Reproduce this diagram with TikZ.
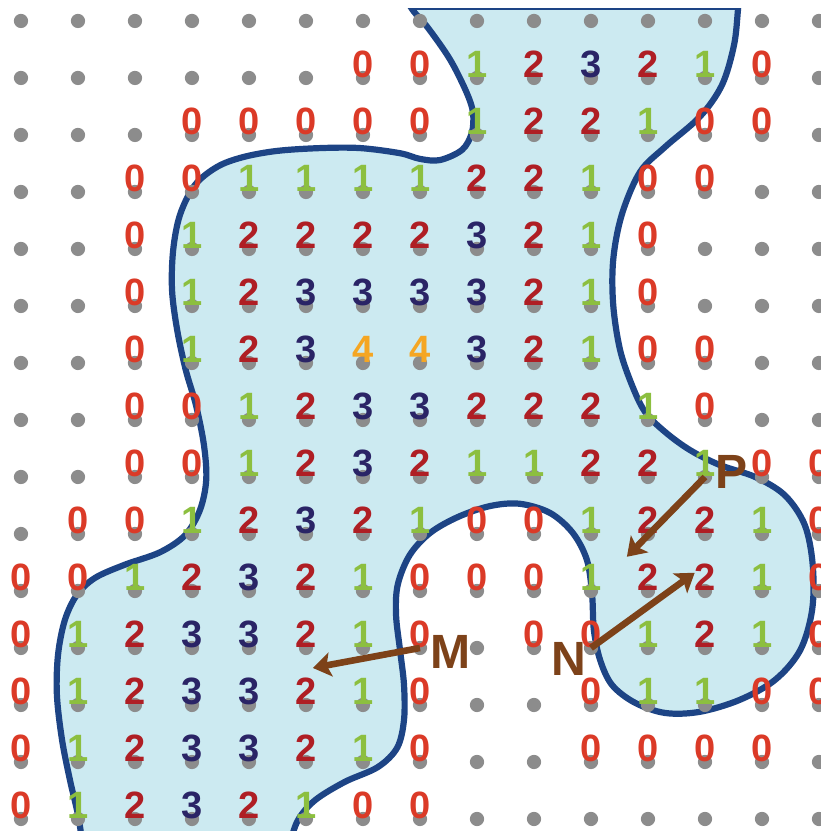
\documentclass[tikz,border=0pt]{standalone}
\usepackage{fontspec}
\setmainfont{Liberation Sans}
\usepackage{xcolor}
\usepackage{tikz}
\usetikzlibrary{arrows.meta, positioning}

\definecolor{so0}{HTML}{DB3A27}
\definecolor{so1}{HTML}{8CBF3F}
\definecolor{so2}{HTML}{AF1E24}
\definecolor{so3}{HTML}{2A2466}
\definecolor{so4}{HTML}{F5A623}
\definecolor{nenxanh}{HTML}{CCEAF1}
\definecolor{vienxanh}{HTML}{1D4485}
\definecolor{nau}{HTML}{7D4219}
\definecolor{cham}{HTML}{8C8C8C}

\tikzset{
    chuso/.style={anchor=base, inner sep=0pt, font=\fontsize{19}{20}\selectfont\bfseries},
    nhan/.style={inner sep=0pt, text=nau, font=\fontsize{24}{26}\selectfont\bfseries},
    muiten/.style={nau, line width=3.3pt, -{Stealth[length=9pt, width=12pt, inset=2pt]}}
}

\begin{document}
\begin{tikzpicture}
    \useasboundingbox (-0.368,0.368) rectangle (14.018,-14.211);

    % 1. Vùng tô màu xanh nhạt, viền xanh đậm (bị cắt ở mép trên và mép dưới)
    \begin{scope}
        \clip (-0.368,0.2105) rectangle (14.018,-14.211);
        \filldraw[fill=nenxanh, draw=vienxanh, line width=3.1pt]
            plot[smooth cycle, tension=0.55] coordinates {
            (6.50,1.20) (12.70,1.20) (12.62,0.70) (12.58,0.21) (12.51,-0.42)
            (12.30,-1.12) (11.91,-1.68) (11.30,-2.21) (10.86,-2.65) (10.54,-3.40)
            (10.39,-4.19) (10.39,-4.98) (10.51,-5.77) (10.72,-6.39) (10.95,-6.86)
            (11.30,-7.21) (11.74,-7.53) (12.26,-7.79) (12.88,-8.00) (13.40,-8.32)
            (13.75,-8.84) (13.89,-9.54) (13.88,-10.33) (13.67,-11.04) (13.23,-11.56)
            (12.61,-11.91) (11.91,-12.12) (11.30,-12.14) (10.77,-11.96) (10.37,-11.65)
            (10.16,-11.21) (10.05,-10.68) (10.02,-10.07) (9.93,-9.46) (9.68,-8.98)
            (9.28,-8.63) (8.75,-8.47) (8.23,-8.51) (7.67,-8.70) (7.18,-8.98)
            (6.82,-9.37) (6.61,-9.89) (6.58,-10.42) (6.65,-11.04) (6.72,-11.65)
            (6.72,-12.26) (6.60,-12.75) (6.26,-13.09) (5.68,-13.35) (5.16,-13.67)
            (4.86,-14.02) (4.72,-14.46) (4.63,-15.07) (4.60,-15.60) (1.00,-15.60)
            (1.04,-15.07) (1.07,-14.46) (1.00,-13.93) (0.86,-13.32) (0.72,-12.61)
            (0.63,-11.82) (0.65,-11.12) (0.77,-10.51) (0.98,-10.07) (1.30,-9.77)
            (1.82,-9.54) (2.44,-9.32) (2.88,-9.02) (3.14,-8.58) (3.25,-8.05)
            (3.21,-7.44) (3.07,-6.74) (2.89,-6.12) (2.74,-5.42) (2.65,-4.72)
            (2.67,-4.02) (2.79,-3.40) (3.05,-2.88) (3.44,-2.56) (3.89,-2.39)
            (4.49,-2.28) (5.25,-2.23) (5.95,-2.23) (6.65,-2.32) (7.00,-2.42)
            (7.35,-2.44) (7.74,-2.26) (7.91,-1.96) (7.93,-1.61) (7.82,-1.26)
            (7.53,-0.68) (7.14,-0.12) (6.86,0.21) (6.62,0.65)};
    \end{scope}
    \draw[vienxanh, line width=1pt] (6.85,0.2105) -- (12.59,0.2105);

    % 2. Lưới chấm xám 15 x 15
    \foreach \i in {0,...,14}
        \foreach \j in {0,...,14} {
            \coordinate (d-\i-\j) at (\i,-\j);
            \fill[cham] (d-\i-\j) circle (0.125);
        }

    % 3. Các chữ số: hàng / cột bắt đầu / dãy số (x = bỏ trống)
    \foreach \j/\s/\lst in {
        1/6/{0,0,1,2,3,2,1,0},
        2/3/{0,0,0,0,0,1,2,2,1,0,0},
        3/2/{0,0,1,1,1,1,2,2,1,0,0},
        4/2/{0,1,2,2,2,2,3,2,1,0},
        5/2/{0,1,2,3,3,3,3,2,1,0},
        6/2/{0,1,2,3,4,4,3,2,1,0,0},
        7/2/{0,0,1,2,3,3,2,2,2,1,0},
        8/2/{0,0,1,2,3,2,1,1,2,2,1,0,0},
        9/1/{0,0,1,2,3,2,1,0,0,1,2,2,1,0},
        10/0/{0,0,1,2,3,2,1,0,0,0,1,2,2,1,0},
        11/0/{0,1,2,3,3,2,1,0,x,0,0,1,2,1,0},
        12/0/{0,1,2,3,3,2,1,0,x,x,0,1,1,0,0},
        13/0/{0,1,2,3,3,2,1,0,x,x,0,0,0,0},
        14/0/{0,1,2,3,2,1,0,0}}
        \foreach \v [count=\k from 0] in \lst {
            \pgfmathtruncatemacro\i{\s+\k}
            \if x\v\else
                \node[chuso, text=so\v] (n-\i-\j) at (d-\i-\j) {\v};
            \fi
        }

    % 4. Các điểm M, N, P và mũi tên
    \coordinate (dauM) at (5.12,-11.35);
    \coordinate (dauN) at (11.82,-9.68);
    \coordinate (dauP) at (10.63,-9.40);
    \draw[muiten] (d-7-11) -- (dauM);
    \draw[muiten] (d-10-11) -- (dauN);
    \draw[muiten] (d-12-8) -- (dauP);
    \node[nhan] (lblM) at (7.535,-11.07) {M};
    \node[nhan] (lblN) at (9.61,-11.20) {N};
    \node[nhan] (lblP) at (12.46,-7.91) {P};

\end{tikzpicture}
\end{document}
